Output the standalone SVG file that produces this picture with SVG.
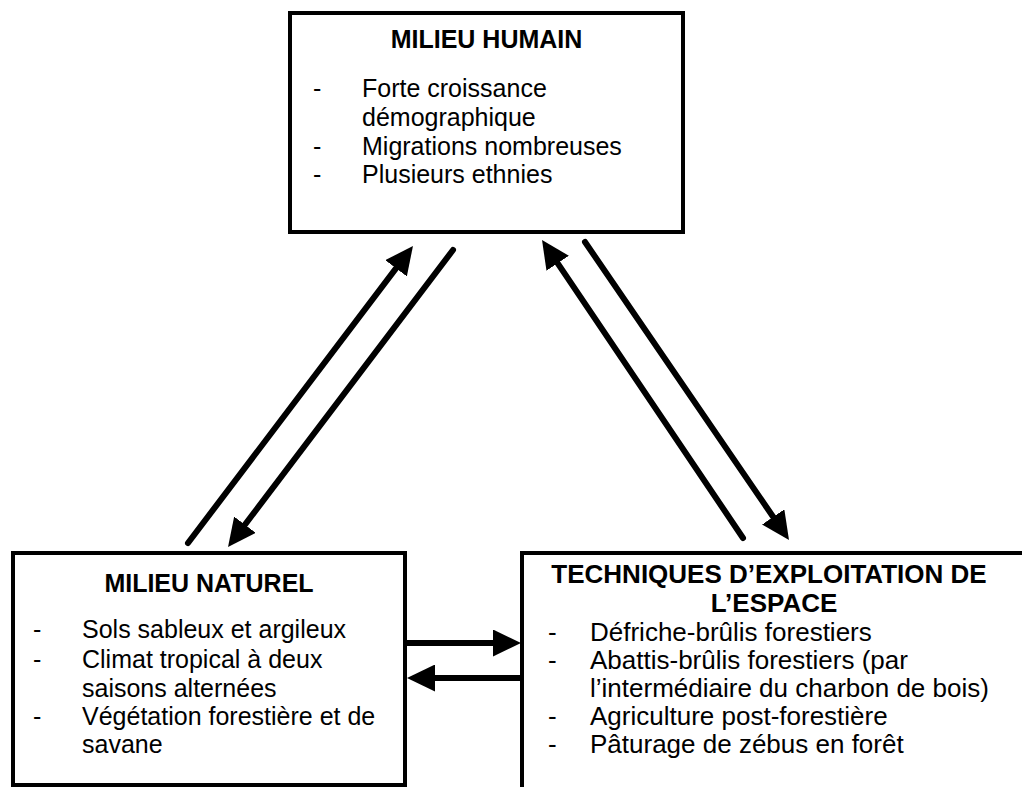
<svg xmlns="http://www.w3.org/2000/svg" width="1022" height="787" viewBox="0 0 1022 787">
  <defs>
    <style>
      .box { fill: #ffffff; stroke: #000000; stroke-width: 4; }
      .title { font-family: "Liberation Sans", Arial, sans-serif; font-size: 25px; font-weight: bold; fill: #000000; text-anchor: middle; }
      .item { font-family: "Liberation Sans", Arial, sans-serif; font-size: 25px; fill: #000000; }
      #techniques .title, #techniques .item { font-size: 26px; }
      .link { stroke: #000000; stroke-width: 6; stroke-linecap: round; fill: none; marker-end: url(#head); }
    </style>
    <marker id="head" markerUnits="userSpaceOnUse" markerWidth="28" markerHeight="27" refX="8" refY="13.5" orient="auto">
      <path d="M0,0 L28,13.5 L0,27 Z" fill="#000000"/>
    </marker>
  </defs>

  <rect width="1022" height="787" fill="#ffffff"/>

  <!-- connectors -->
  <g id="connectors">
    <line class="link" x1="188" y1="543" x2="400.9" y2="261.9"/>
    <line class="link" x1="453" y1="250" x2="240.1" y2="531.1"/>
    <line class="link" x1="743" y1="538" x2="553.2" y2="256.6"/>
    <line class="link" x1="585" y1="242" x2="777.7" y2="523.5"/>
    <line class="link" x1="407" y1="643" x2="501" y2="643"/>
    <line class="link" x1="520" y1="678" x2="427" y2="678"/>
  </g>

  <!-- human environment -->
  <g id="milieu-humain">
    <rect class="box" x="290" y="13" width="393" height="219"/>
    <text class="title" x="486.5" y="48">MILIEU HUMAIN</text>
    <text class="item" x="313" y="97">-</text>
    <text class="item" x="362" y="97">Forte croissance</text>
    <text class="item" x="362" y="126">démographique</text>
    <text class="item" x="313" y="155">-</text>
    <text class="item" x="362" y="155">Migrations nombreuses</text>
    <text class="item" x="313" y="183">-</text>
    <text class="item" x="362" y="183">Plusieurs ethnies</text>
  </g>

  <!-- natural environment -->
  <g id="milieu-naturel">
    <rect class="box" x="13" y="553" width="392" height="232"/>
    <text class="title" x="209" y="592">MILIEU NATUREL</text>
    <text class="item" x="33" y="638">-</text>
    <text class="item" x="82" y="638">Sols sableux et argileux</text>
    <text class="item" x="33" y="668">-</text>
    <text class="item" x="82" y="668">Climat tropical à deux</text>
    <text class="item" x="82" y="697">saisons alternées</text>
    <text class="item" x="33" y="725">-</text>
    <text class="item" x="82" y="725">Végétation forestière et de</text>
    <text class="item" x="82" y="753">savane</text>
  </g>

  <!-- land use techniques -->
  <g id="techniques">
    <rect class="box" x="522" y="553" width="520" height="260"/>
    <text class="title" x="769" y="583">TECHNIQUES D’EXPLOITATION DE</text>
    <text class="title" x="774" y="612">L’ESPACE</text>
    <text class="item" x="548" y="641">-</text>
    <text class="item" x="590" y="641">Défriche-brûlis forestiers</text>
    <text class="item" x="548" y="669">-</text>
    <text class="item" x="590" y="669">Abattis-brûlis forestiers (par</text>
    <text class="item" x="590" y="697">l’intermédiaire du charbon de bois)</text>
    <text class="item" x="548" y="725">-</text>
    <text class="item" x="590" y="725">Agriculture post-forestière</text>
    <text class="item" x="548" y="753">-</text>
    <text class="item" x="590" y="753">Pâturage de zébus en forêt</text>
  </g>
</svg>
